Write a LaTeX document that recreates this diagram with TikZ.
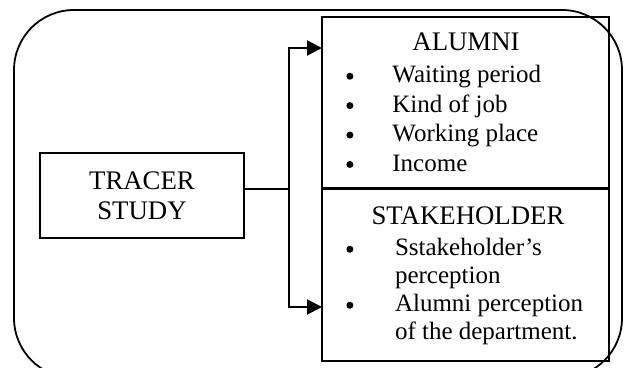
\documentclass[tikz,border=0pt]{standalone}
\usepackage{fontspec}
\setmainfont{Liberation Serif}
\usetikzlibrary{arrows.meta,positioning}

\newcommand{\blt}{\tikz[baseline=-0.27em]\fill (0,0) circle[radius=1.75pt];}

\begin{document}
\begin{tikzpicture}[
      x=0.5pt, y=-0.5pt,
      >={Triangle[length=7.5pt,width=7.5pt]},
      box/.style={draw,line width=1pt,inner sep=0pt},
      txt/.style={inner sep=0pt,font=\fontsize{12.5}{#1}\selectfont},
      txt/.default=14.7pt,
      title/.style={inner sep=0pt,font=\fontsize{13.4}{15pt}\selectfont},
      link/.style={line width=1.1pt}
    ]
      \useasboundingbox (0,0) rectangle (626,368);
      % outer frame
      \draw[line width=0.9pt,rounded corners=30pt] (14,10) rectangle (622,378);

      \node[box,title,align=center,minimum width=102pt,minimum height=42.5pt] (tracer) at (142,195.5) {TRACER\\STUDY};
      \node[box,minimum width=143.5pt,minimum height=86pt] (alumni) at (465.5,103) {};
      \node[box,minimum width=143.5pt,minimum height=86.5pt] (stake) at (465.5,274.5) {};

      \node[title,anchor=base] (alumniT) at (466,51) {ALUMNI};
      \node[txt,anchor=base west] (alumniL) at (346,83) {%
        \begin{tabular}[t]{@{}l@{\hspace{19.5pt}}l@{}}
          \blt & Waiting period\\
          \blt & Kind of job\\
          \blt & Working place\\
          \blt & Income
        \end{tabular}};

      \node[title,anchor=base] (stakeT) at (468,225) {STAKEHOLDER};
      \node[txt=14pt,anchor=base west] (stakeL) at (346,256) {%
        \begin{tabular}[t]{@{}l@{\hspace{20.8pt}}l@{}}
          \blt & Sstakeholder's\\
               & perception\\
          \blt & Alumni perception\\
               & of the department.
        \end{tabular}};

      % connectors
      \coordinate (split) at (289,189);
      \coordinate (inA) at (322,48);
      \coordinate (inS) at (322,307);
      \draw[link] (tracer.east |- split) -- (split);
      \draw[link,->] (split) |- (inA);
      \draw[link,->] (split) |- (inS);
    \end{tikzpicture}
\end{document}
